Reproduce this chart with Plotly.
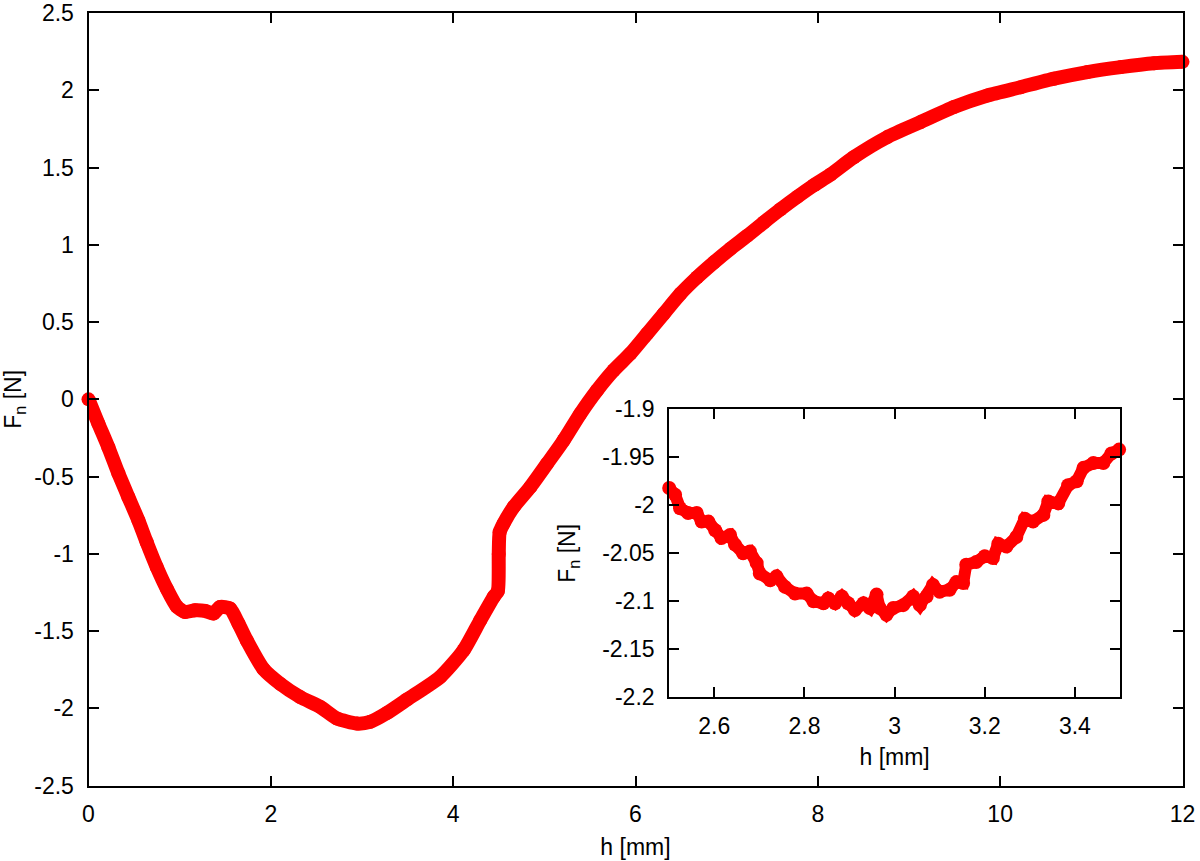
import plotly.graph_objects as go

# Main curve: h [mm] vs F_n [N]
main_h = [0.0, 0.108, 0.217, 0.327, 0.437, 0.547, 0.638, 0.748, 0.858, 0.968,
          1.059, 1.169, 1.279, 1.37, 1.443, 1.553, 1.645, 1.736, 1.919, 2.102,
          2.321, 2.541, 2.724, 2.944, 3.09, 3.273, 3.5, 3.858, 4.114, 4.297,
          4.444, 4.49, 4.5, 4.51, 4.553, 4.663, 4.846, 5.03, 5.212, 5.395,
          5.578, 5.761, 5.944, 6.127, 6.31, 6.493, 6.676, 6.858, 7.042, 7.225,
          7.407, 7.591, 7.774, 7.956, 8.14, 8.395, 8.762, 9.127, 9.493, 9.86,
          10.225, 10.591, 10.957, 11.323, 11.688, 12.0]
main_f = [0.0, -0.157, -0.309, -0.478, -0.632, -0.783, -0.925, -1.085, -1.225, -1.34,
          -1.376, -1.365, -1.369, -1.386, -1.343, -1.354, -1.451, -1.56, -1.745, -1.84,
          -1.926, -1.99, -2.065, -2.098, -2.087, -2.03, -1.94, -1.796, -1.624, -1.43,
          -1.279, -1.24, -1.0, -0.86, -0.804, -0.697, -0.567, -0.416, -0.265, -0.093,
          0.058, 0.188, 0.296, 0.425, 0.554, 0.683, 0.79, 0.885, 0.975, 1.058,
          1.145, 1.23, 1.31, 1.385, 1.455, 1.567, 1.697, 1.794, 1.891, 1.966,
          2.02, 2.075, 2.118, 2.15, 2.175, 2.184]

# Inset (zoom around the minimum)
inset_h = [2.5, 2.513, 2.524, 2.542, 2.561, 2.572, 2.587, 2.602, 2.616, 2.635,
           2.646, 2.664, 2.679, 2.694, 2.701, 2.724, 2.738, 2.757, 2.779, 2.805,
           2.82, 2.842, 2.853, 2.868, 2.883, 2.897, 2.912, 2.931, 2.945, 2.96,
           2.967, 2.982, 2.997, 3.019, 3.041, 3.056, 3.071, 3.085, 3.1, 3.122,
           3.137, 3.152, 3.159, 3.181, 3.2, 3.218, 3.23, 3.248, 3.27, 3.289,
           3.307, 3.33, 3.341, 3.363, 3.385, 3.404, 3.419, 3.441, 3.463, 3.481, 3.498]
inset_f = [-1.982, -1.989, -2.003, -2.008, -2.008, -2.017, -2.017, -2.026, -2.034, -2.031,
           -2.041, -2.05, -2.048, -2.06, -2.071, -2.078, -2.074, -2.085, -2.092, -2.092,
           -2.1, -2.102, -2.097, -2.102, -2.095, -2.102, -2.109, -2.102, -2.107, -2.093,
           -2.107, -2.114, -2.107, -2.104, -2.095, -2.104, -2.095, -2.083, -2.09, -2.088,
           -2.08, -2.081, -2.062, -2.059, -2.053, -2.055, -2.04, -2.043, -2.033, -2.014,
           -2.017, -2.01, -1.996, -1.998, -1.979, -1.975, -1.961, -1.956, -1.956, -1.946, -1.942]

main_xticks = [0, 2, 4, 6, 8, 10, 12]
main_yticks = [-2.5, -2, -1.5, -1, -0.5, 0, 0.5, 1, 1.5, 2, 2.5]
main_ytext = ["-2.5", "-2", "-1.5", "-1", "-0.5", "0", "0.5", "1", "1.5", "2", "2.5"]
inset_xticks = [2.6, 2.8, 3.0, 3.2, 3.4]
inset_xtext = ["2.6", "2.8", "3", "3.2", "3.4"]
inset_yticks = [-2.2, -2.15, -2.1, -2.05, -2.0, -1.95, -1.9]
inset_ytext = ["-2.2", "-2.15", "-2.1", "-2.05", "-2", "-1.95", "-1.9"]

RED = "#ff0000"
FONT = "Liberation Sans, Arial, Helvetica, sans-serif"
FS = 23

fig = go.Figure()
fig.add_trace(go.Scatter(x=main_h, y=main_f, mode="lines+markers",
                         line=dict(color=RED, width=14, shape="spline", smoothing=0.6),
                         marker=dict(color=RED, size=14),
                         xaxis="x", yaxis="y", showlegend=False, cliponaxis=False))
fig.add_trace(go.Scatter(x=inset_h, y=inset_f, mode="lines+markers",
                         line=dict(color=RED, width=12),
                         marker=dict(color=RED, size=14),
                         xaxis="x2", yaxis="y2", showlegend=False, cliponaxis=False))

axis_common = dict(showline=True, linecolor="black", linewidth=2, mirror="ticks",
                   ticks="inside", ticklen=10, tickwidth=1.5, tickcolor="black",
                   showgrid=False, zeroline=False,
                   tickfont=dict(family=FONT, size=FS, color="black"))

fig.update_layout(
    width=1200, height=861,
    margin=dict(l=0, r=0, t=0, b=0),
    paper_bgcolor="white", plot_bgcolor="white",
    font=dict(family=FONT, size=FS, color="black"),
    xaxis=dict(domain=[0.07375, 0.98542], range=[0, 12], tickvals=main_xticks,
               ticklabelstandoff=7,
               title=dict(text="h [mm]", standoff=13, font=dict(family=FONT, size=FS)),
               automargin=False, **axis_common),
    yaxis=dict(domain=[0.08746, 0.98490], range=[-2.5, 2.5], tickvals=main_yticks,
               ticktext=main_ytext, ticklabelstandoff=8,
               title=dict(text="F<sub>n</sub> [N]", standoff=8, font=dict(family=FONT, size=FS)),
               automargin=False, **axis_common),
    xaxis2=dict(domain=[0.55767, 0.93333], range=[2.5, 3.5], tickvals=inset_xticks,
                ticktext=inset_xtext, anchor="y2", ticklabelstandoff=7,
                title=dict(text="h [mm]", standoff=11, font=dict(family=FONT, size=FS)),
                automargin=False, **axis_common),
    yaxis2=dict(domain=[0.19013, 0.52462], range=[-2.2, -1.9], tickvals=inset_yticks,
                ticktext=inset_ytext, anchor="x2", ticklabelstandoff=8,
                title=dict(text="F<sub>n</sub> [N]", standoff=20, font=dict(family=FONT, size=FS)),
                automargin=False, **axis_common),
)

fig.write_html("out.html", config={"displayModeBar": False},
               post_script="document.body.style.margin='0';document.body.style.overflow='hidden';")
